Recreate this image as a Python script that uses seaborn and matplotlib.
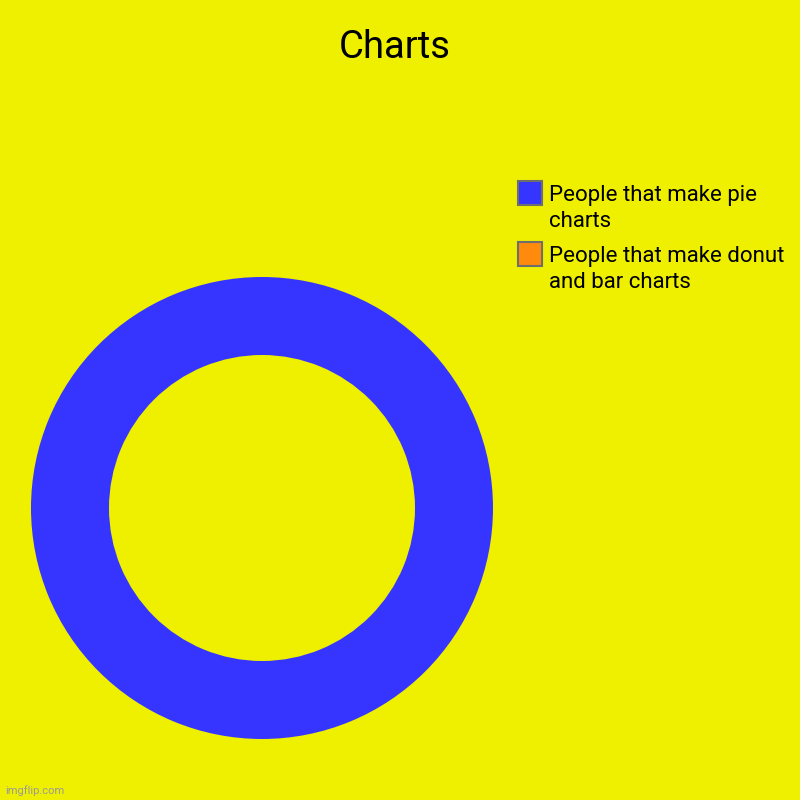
import matplotlib.pyplot as plt
import matplotlib.patches as mpatches
from matplotlib.legend_handler import HandlerPatch
import seaborn as sns

labels = ["People that make pie charts", "People that make donut and bar charts"]
legend_labels = ["People that make pie\ncharts", "People that make donut\nand bar charts"]
values = [100, 0]
colors = ["#3535FF", "#FF8A0C"]

BG = "#EFEF00"
FS = 16

sns.set_style("white")
plt.rcParams["font.family"] = ["Roboto", "DejaVu Sans"]
plt.rcParams["text.color"] = "black"


def _top_square(legend, orig_handle, xdescent, ydescent, width, height, fontsize):
    # square box level with the first text line, not centred on both lines
    size = width
    return mpatches.Rectangle((-xdescent, -ydescent + height - size + 8), size, size)


fig = plt.figure(figsize=(8, 8), dpi=100, facecolor=BG)

# donut axes: centre (262, 508) px, outer radius 231 px
ax = fig.add_axes([31 / 800, 1 - 739 / 800, 462 / 800, 462 / 800])
ax.set_facecolor(BG)
ax.pie(
    values,
    colors=colors,
    startangle=90,
    counterclock=False,
    radius=1.0,
    wedgeprops={"width": 1 - 153 / 231, "linewidth": 0},
)
ax.set_xlim(-1, 1)
ax.set_ylim(-1, 1)
ax.set_aspect("equal")
ax.axis("off")

fig.text(395 / 800, 1 - 47 / 800, "Charts", ha="center", va="center", fontsize=27.5, color="black")

handles = [
    mpatches.Patch(facecolor=c, edgecolor="#6E6E6E", linewidth=1.5)
    for c in colors
]
leg = fig.legend(
    handles,
    legend_labels,
    loc="upper left",
    bbox_to_anchor=(518 / 800, 1 - 185 / 800),
    frameon=False,
    fontsize=FS,
    handlelength=24 / (FS * 100 / 72),
    handleheight=2.0,
    handletextpad=0.3,
    labelspacing=0.65,
    borderpad=0,
    borderaxespad=0,
    handler_map={mpatches.Patch: HandlerPatch(patch_func=_top_square)},
)
for t in leg.get_texts():
    t.set_linespacing(1.3)

fig.text(5 / 800, 1 - 791 / 800, "imgflip.com", ha="left", va="center", fontsize=8, color="#9A9A9A")

fig.savefig("out.png", dpi=100, facecolor=BG)
